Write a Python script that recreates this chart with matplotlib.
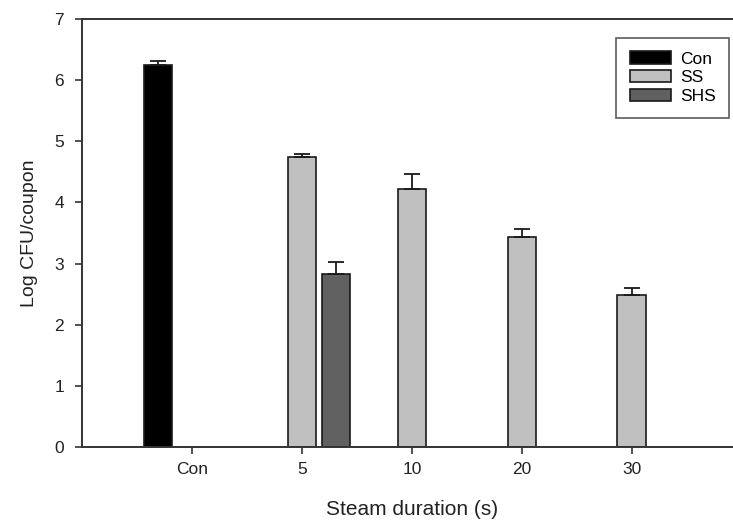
import matplotlib
matplotlib.use('Agg')
import matplotlib.pyplot as plt
import numpy as np

plt.rcParams['font.family'] = ['Liberation Sans', 'DejaVu Sans']

# Daten
kategorien = ['Con', '5', '10', '20', '30']
con_werte = [6.25, 0, 0, 0, 0]
con_fehler = [0.06, 0, 0, 0, 0]
ss_werte = [0, 4.74, 4.22, 3.44, 2.49]
ss_fehler = [0, 0.06, 0.24, 0.12, 0.11]
shs_werte = [0, 2.83, 0, 0, 0]
shs_fehler = [0, 0.20, 0, 0, 0]

fig = plt.figure(figsize=(7.33, 5.21), dpi=100)
ax = fig.add_axes([0.1119, 0.142, 0.9, 0.8215])

x = np.arange(1, len(kategorien) + 1)
breite = 0.26
versatz = 0.31

reihen = [
    ('Con', con_werte, con_fehler, -versatz, '#000000'),
    ('SS', ss_werte, ss_fehler, 0, '#c0c0c0'),
    ('SHS', shs_werte, shs_fehler, versatz, '#606060'),
]

for name, werte, fehler, dx, farbe in reihen:
    werte = np.array(werte)
    fehler = np.array(fehler)
    maske = werte > 0
    ax.bar(x[maske] + dx, werte[maske], width=breite, color=farbe,
           edgecolor='#1a1a1a', linewidth=1.2, label=name, zorder=2)
    ax.errorbar(x[maske] + dx, werte[maske],
                yerr=[np.zeros(maske.sum()), fehler[maske]],
                fmt='none', ecolor='#1a1a1a', elinewidth=1.3,
                capsize=6, capthick=1.3, zorder=3)

ax.set_xlim(0, 6)
ax.set_ylim(0, 7)
ax.set_xticks(x)
ax.set_xticklabels(kategorien)
ax.set_yticks(range(0, 8))

for s in ['left', 'bottom', 'top']:
    ax.spines[s].set_color('#333333')
    ax.spines[s].set_linewidth(1.4)
ax.spines['right'].set_visible(False)

ax.tick_params(direction='out', length=5, width=1.2, color='#333333',
               labelsize=12.5, labelcolor='#222222')
ax.tick_params(axis='x', pad=6)
ax.tick_params(axis='y', pad=8)

ax.set_xlabel('Steam duration (s)', fontsize=15, labelpad=16, color='#222222')
ax.set_ylabel('Log CFU/coupon', fontsize=14, labelpad=12, color='#222222')

leg = ax.legend(loc='upper left', bbox_to_anchor=(0.797, 0.977),
                frameon=True, fancybox=False, fontsize=12.5,
                handlelength=2.35, handleheight=0.7, handletextpad=0.5,
                labelspacing=0.2, borderpad=0.8)
leg.get_frame().set_edgecolor('#333333')
leg.get_frame().set_linewidth(1.2)

fig.savefig('out.png', dpi=100)
